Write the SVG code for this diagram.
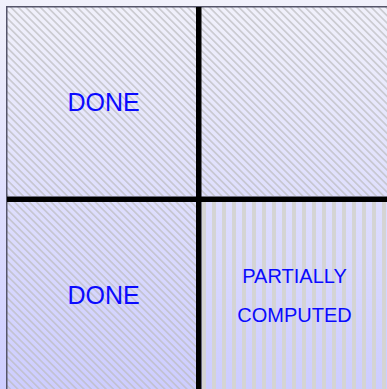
<svg xmlns="http://www.w3.org/2000/svg" width="387" height="389" viewBox="0 0 387 389">
  <defs>
    <linearGradient id="bg" x1="0" y1="0" x2="0" y2="1">
      <stop offset="0" stop-color="#f1f1fb"/>
      <stop offset="1" stop-color="#cdcdff"/>
    </linearGradient>
    <pattern id="hatch" patternUnits="userSpaceOnUse" width="5.2" height="5.2" patternTransform="rotate(45)">
      <line x1="0" y1="2.6" x2="5.2" y2="2.6" stroke="#bcbcc0" stroke-width="1.2"/>
    </pattern>
    <pattern id="stripes" patternUnits="userSpaceOnUse" x="2" y="0" width="10" height="10">
      <rect x="0" y="0" width="4" height="10" fill="#d4d4d4"/>
    </pattern>
  </defs>
  <style>
    .lbl { fill: #0a0aff; text-anchor: middle; font-family: "Liberation Sans", Arial, sans-serif; }
    .done { font-size: 25px; }
    .part { font-size: 20px; }
    .div { fill: #000000; }
  </style>
  <rect x="0" y="0" width="387" height="389" fill="url(#bg)"/>
  <g id="cell-top-left">
    <rect x="7" y="7" width="189" height="189" fill="url(#hatch)"/>
    <text class="lbl done" x="103.6" y="111.3">DONE</text>
  </g>
  <g id="cell-top-right">
    <rect x="201" y="7" width="186" height="189" fill="url(#hatch)"/>
  </g>
  <g id="cell-bottom-left">
    <rect x="7" y="201" width="189" height="188" fill="url(#hatch)"/>
    <text class="lbl done" x="103.6" y="304">DONE</text>
  </g>
  <g id="cell-bottom-right">
    <rect x="201" y="201" width="186" height="188" fill="url(#stripes)"/>
    <text class="lbl part" x="294.5" y="283.3">PARTIALLY</text>
    <text class="lbl part" x="294.5" y="321.7">COMPUTED</text>
  </g>
  <g id="frame">
    <path d="M6.75 389 V6.75 H387" fill="none" stroke="#55556a" stroke-width="1.5"/>
    <rect class="div" x="196" y="7" width="5.5" height="382"/>
    <rect class="div" x="7" y="196.5" width="380" height="5.5"/>
  </g>
</svg>
